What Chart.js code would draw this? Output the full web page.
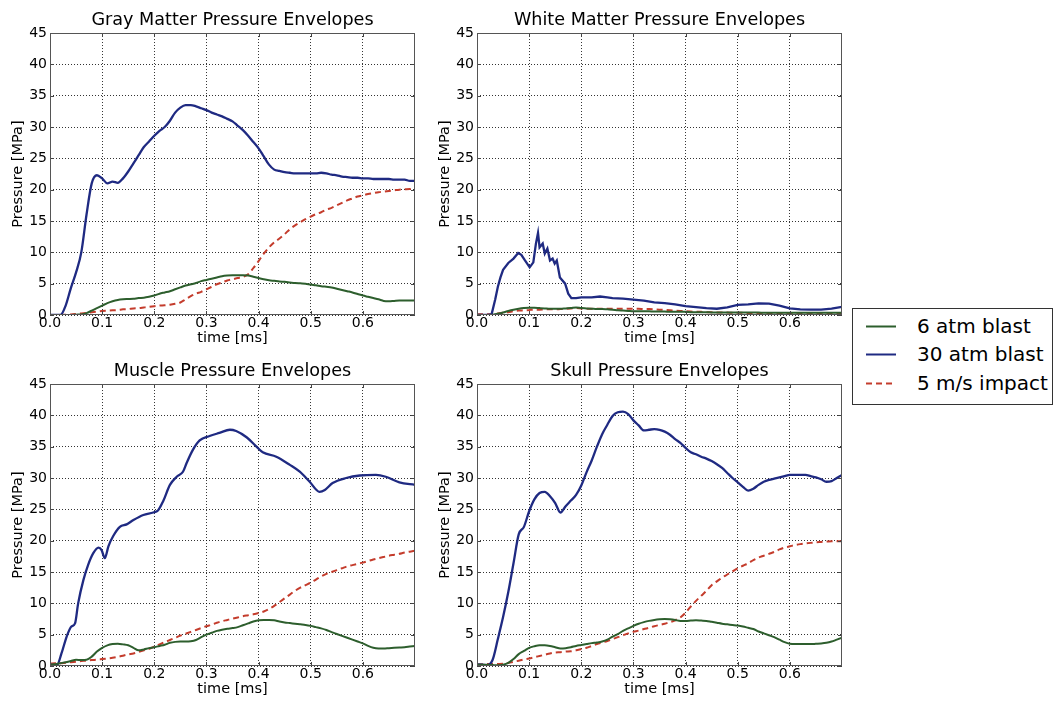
<!DOCTYPE html>
<html>
<head>
<meta charset="utf-8">
<script src="https://cdn.jsdelivr.net/npm/chart.js@4"></script>
<style>
  body { margin: 0; background: #fff; font-family: "DejaVu Sans", sans-serif; }
  #wrap { position: relative; width: 1057px; height: 703px; }
  canvas { position: absolute; }
  #legend { position: absolute; left: 852px; top: 308px; width: 199px; height: 95px;
            border: 1px solid #333; background: #fff; font-size: 20px; color: #000; }
  .row { position: absolute; left: 0; height: 24px; line-height: 24px; }
  .row svg { position: absolute; left: 13px; top: 11px; }
  .row span { position: absolute; left: 64px; white-space: nowrap; }
</style>
</head>
<body>
<div id="wrap">
  <canvas id="gray" width="430" height="350" style="left:0;top:0"></canvas>
  <canvas id="white" width="430" height="350" style="left:427px;top:0"></canvas>
  <canvas id="muscle" width="430" height="350" style="left:0;top:351px"></canvas>
  <canvas id="skull" width="430" height="350" style="left:427px;top:351px"></canvas>
  <div id="legend"></div>
</div>
<script>
// Legend labels
const seriesNames = ['6 atm blast', '30 atm blast', '5 m/s impact'];
const colors = ['#2d5e2d', '#1f2a82', '#c43c2c'];

// Shared time grid [ms]
const time = [0.00,0.01,0.02,0.03,0.04,0.05,0.06,0.07,0.08,0.09,
  0.10,0.11,0.12,0.13,0.14,0.15,0.16,0.17,0.18,0.19,
  0.20,0.21,0.22,0.23,0.24,0.25,0.26,0.27,0.28,0.29,
  0.30,0.31,0.32,0.33,0.34,0.35,0.36,0.37,0.38,0.39,
  0.40,0.41,0.42,0.43,0.44,0.45,0.46,0.47,0.48,0.49,
  0.50,0.51,0.52,0.53,0.54,0.55,0.56,0.57,0.58,0.59,
  0.60,0.61,0.62,0.63,0.64,0.65,0.66,0.67,0.68,0.69,0.70];

const xTicks = [0.0, 0.1, 0.2, 0.3, 0.4, 0.5, 0.6];
const yTicks = [0, 5, 10, 15, 20, 25, 30, 35, 40, 45];

// Gray matter
const grayBlast = [0,0,0,1.5,4.3,6.8,10,16,21,22.3,
  21.8,21.0,21.3,21.1,21.8,22.9,24.2,25.5,26.8,27.7,
  28.6,29.4,30.0,31.0,32.3,33.1,33.5,33.5,33.3,33.0,
  32.7,32.3,32.0,31.7,31.3,30.9,30.2,29.5,28.6,27.6,
  26.6,25.3,24.0,23.2,23.0,22.8,22.7,22.6,22.6,22.6,
  22.6,22.6,22.7,22.6,22.4,22.3,22.1,22.0,21.9,21.9,
  21.8,21.8,21.7,21.7,21.7,21.7,21.6,21.6,21.6,21.4,21.4];
const grayLow = [0,0,0,0,0,0.05,0.1,0.3,0.7,1.1,
  1.5,1.9,2.2,2.4,2.5,2.55,2.6,2.7,2.75,2.9,
  3.1,3.4,3.6,3.8,4.1,4.4,4.7,4.9,5.1,5.4,
  5.6,5.8,6.0,6.2,6.3,6.35,6.35,6.35,6.3,6.1,
  5.9,5.7,5.55,5.45,5.35,5.3,5.2,5.1,5.05,5.0,
  4.85,4.75,4.6,4.5,4.4,4.2,4.0,3.8,3.6,3.35,
  3.1,2.9,2.7,2.5,2.25,2.2,2.25,2.3,2.3,2.3,2.3];
const grayImpact = [0,0,0,0.05,0.1,0.15,0.25,0.35,0.45,0.55,
  0.65,0.7,0.75,0.8,0.9,0.95,1.05,1.1,1.2,1.3,
  1.4,1.5,1.55,1.65,1.8,2.0,2.5,3.0,3.4,3.7,
  4.1,4.5,4.9,5.2,5.5,5.7,5.9,6.1,6.5,7.5,
  8.6,9.8,10.8,11.6,12.2,12.9,13.7,14.3,14.8,15.3,
  15.7,16.1,16.4,16.8,17.1,17.5,17.9,18.3,18.6,18.9,
  19.1,19.3,19.45,19.6,19.7,19.8,19.9,20.0,20.05,20.1,20.1];

// White matter (blast series is spiky, so it has its own time points)
const whiteBlastTime = [0,0.02,0.028,0.035,0.04,0.045,0.05,0.06,0.07,0.079,
  0.085,0.092,0.101,0.108,0.113,0.117,0.12,0.126,0.13,0.135,
  0.14,0.145,0.149,0.153,0.159,0.169,0.175,0.181,0.19,0.2,
  0.22,0.236,0.25,0.26,0.28,0.3,0.32,0.34,0.36,0.38,
  0.4,0.42,0.44,0.46,0.48,0.5,0.52,0.54,0.56,0.58,
  0.6,0.62,0.64,0.66,0.68,0.7];
const whiteBlast = [0,0,0.1,2.5,4.5,6,7.2,8.3,9.0,9.9,
  9.6,8.7,7.6,8.4,11.4,13.1,10.8,11.4,9.8,10.6,
  8.7,9.0,8.2,8.7,6,5,3.4,2.7,2.7,2.8,
  2.8,2.95,2.8,2.7,2.6,2.45,2.3,2.0,1.9,1.7,
  1.4,1.25,1.1,1.0,1.2,1.6,1.7,1.85,1.8,1.5,
  1.05,0.9,0.85,0.85,1.0,1.3];
const whiteLow = [0,0,0,0.05,0.2,0.4,0.65,0.85,1.0,1.1,
  1.15,1.15,1.1,1.05,1.0,1.0,1.0,1.05,1.1,1.2,
  1.1,1.05,1.0,0.95,0.95,0.9,0.85,0.75,0.7,0.65,
  0.6,0.6,0.6,0.6,0.55,0.55,0.55,0.5,0.5,0.5,
  0.5,0.45,0.45,0.45,0.45,0.4,0.4,0.4,0.4,0.4,
  0.4,0.4,0.38,0.38,0.38,0.36,0.36,0.36,0.35,0.35,
  0.35,0.35,0.35,0.35,0.35,0.35,0.35,0.35,0.35,0.35,0.35];
const whiteImpact = [0.1,0.1,0.1,0.15,0.25,0.35,0.45,0.6,0.7,0.75,
  0.8,0.85,0.85,0.9,0.9,0.9,0.95,1.0,1.05,1.1,
  1.05,1.0,1.0,1.0,1.0,1.0,1.0,1.0,1.0,1.0,
  1.0,1.0,0.95,0.95,0.9,0.85,0.8,0.75,0.7,0.65,
  0.6,0.55,0.5,0.5,0.45,0.45,0.4,0.4,0.4,0.35,
  0.35,0.35,0.33,0.33,0.32,0.32,0.3,0.3,0.3,0.3,
  0.3,0.3,0.3,0.3,0.3,0.3,0.3,0.3,0.3,0.3,0.3];

// Muscle
const muscleBlastTime = [0,0.013,0.022,0.032,0.041,0.048,0.054,0.064,0.073,0.083,
  0.093,0.099,0.105,0.112,0.121,0.134,0.147,0.16,0.179,0.198,
  0.207,0.217,0.23,0.243,0.255,0.262,0.274,0.287,0.306,0.325,
  0.345,0.357,0.377,0.396,0.408,0.434,0.46,0.479,0.498,0.517,
  0.527,0.542,0.568,0.594,0.625,0.644,0.67,0.70];
const muscleBlast = [0.2,0.1,2,4.7,6.3,6.8,10,13.7,16.1,18,
  18.9,18.5,17.2,19.1,20.7,22.2,22.6,23.3,24.1,24.5,
  24.8,26.3,28.9,30.2,31,32.4,34.5,36,36.7,37.2,
  37.7,37.5,36.5,35,34.1,33.4,32.1,31,29.4,27.8,
  28.1,29.2,30,30.4,30.5,30.2,29.3,28.9];
const muscleLow = [0.15,0.3,0.45,0.6,0.8,1.0,0.95,1.0,1.5,2.3,
  2.9,3.3,3.5,3.55,3.45,3.3,2.9,2.5,2.65,2.85,
  3.0,3.2,3.4,3.7,3.85,3.9,3.9,3.95,4.15,4.6,
  5.0,5.3,5.6,5.8,5.95,6.05,6.2,6.5,6.8,7.1,
  7.3,7.35,7.35,7.3,7.1,6.95,6.85,6.75,6.65,6.55,
  6.4,6.2,6.0,5.75,5.4,5.1,4.8,4.5,4.2,3.9,
  3.6,3.2,2.9,2.8,2.8,2.85,2.9,2.95,3.0,3.1,3.2];
const muscleImpact = [0.4,0.42,0.45,0.5,0.6,0.7,0.8,0.85,0.95,1.0,
  1.1,1.2,1.3,1.45,1.65,1.85,2.0,2.25,2.5,2.75,
  3.1,3.45,3.8,4.15,4.5,4.85,5.15,5.45,5.75,6.05,
  6.35,6.6,6.9,7.15,7.35,7.55,7.75,7.95,8.1,8.25,
  8.45,8.7,9.1,9.6,10.2,10.8,11.4,12.0,12.5,12.9,
  13.3,13.8,14.3,14.7,15.0,15.3,15.6,15.9,16.1,16.3,
  16.5,16.75,17.0,17.2,17.4,17.6,17.75,17.9,18.1,18.25,18.4];

// Skull
const skullBlast = [0.25,0.2,0.15,1.0,4.3,7.8,11.8,16.4,21.0,22.2,
  24.7,26.6,27.6,27.8,27.1,26.0,24.5,25.5,26.4,27.3,
  28.8,30.9,32.8,35.0,37.0,38.5,39.9,40.5,40.6,40.2,
  39.2,38.4,37.6,37.7,37.8,37.7,37.4,36.9,36.2,35.6,
  34.8,34.1,33.8,33.4,33.1,32.7,32.2,31.6,30.8,30.0,
  29.3,28.6,28.0,28.3,28.9,29.4,29.7,29.9,30.1,30.3,
  30.5,30.5,30.5,30.5,30.3,30.1,29.8,29.4,29.5,30.0,30.5];
const skullLow = [0.2,0.2,0.2,0.15,0.1,0.2,0.5,1.1,1.9,2.4,
  2.9,3.15,3.3,3.3,3.2,3.0,2.8,2.85,3.0,3.2,
  3.35,3.5,3.65,3.75,3.9,4.2,4.7,5.1,5.6,6.0,
  6.4,6.75,7.0,7.2,7.35,7.45,7.5,7.45,7.35,7.2,
  7.2,7.25,7.3,7.25,7.2,7.05,6.9,6.75,6.65,6.55,
  6.45,6.3,6.1,5.9,5.5,5.2,4.9,4.6,4.2,3.8,
  3.55,3.5,3.5,3.5,3.5,3.55,3.6,3.7,3.9,4.2,4.5];
const skullImpact = [0.25,0.27,0.3,0.3,0.32,0.35,0.5,0.65,0.85,1.05,
  1.2,1.4,1.6,1.8,2.0,2.15,2.2,2.3,2.35,2.5,
  2.7,2.9,3.2,3.5,3.75,4.0,4.3,4.6,4.9,5.2,
  5.45,5.65,5.9,6.1,6.35,6.55,6.75,7.0,7.3,7.75,
  8.5,9.5,10.4,11.2,12.0,12.9,13.5,14.1,14.6,15.1,
  15.6,16.0,16.4,16.9,17.3,17.6,17.9,18.2,18.6,18.9,
  19.1,19.3,19.45,19.55,19.65,19.75,19.8,19.85,19.9,19.9,19.9];

Chart.defaults.font.family = '"DejaVu Sans", sans-serif';
Chart.defaults.color = '#000';

function pairs(xs, ys) {
  return ys.map((v, i) => ({ x: xs[i], y: v }));
}

// matplotlib style box around the axes, with small inward tick marks
const framePlugin = {
  id: 'frame',
  afterDatasetsDraw(chart) {
    const a = chart.chartArea;
    const ctx = chart.ctx;
    const { x, y } = chart.scales;
    const len = 4;
    ctx.save();
    ctx.strokeStyle = '#444';
    ctx.lineWidth = 1;
    ctx.beginPath();
    x.ticks.forEach(t => {
      const px = Math.round(x.getPixelForValue(t.value)) + 0.5;
      ctx.moveTo(px, a.bottom); ctx.lineTo(px, a.bottom - len);
      ctx.moveTo(px, a.top); ctx.lineTo(px, a.top + len);
    });
    y.ticks.forEach(t => {
      const py = Math.round(y.getPixelForValue(t.value)) + 0.5;
      ctx.moveTo(a.left, py); ctx.lineTo(a.left + len, py);
      ctx.moveTo(a.right, py); ctx.lineTo(a.right - len, py);
    });
    ctx.stroke();
    ctx.strokeStyle = '#555';
    ctx.strokeRect(Math.round(a.left) + 0.5, Math.round(a.top) + 0.5,
      Math.round(a.width) - 1, Math.round(a.height) - 1);
    ctx.restore();
  }
};

function makePanel(id, title, blastTime, blast, low, impact, spiky) {
  const dash = [1, 2];
  new Chart(document.getElementById(id), {
    type: 'line',
    data: {
      datasets: [
        { label: seriesNames[0], data: pairs(time, low), borderColor: colors[0],
          borderWidth: 2, cubicInterpolationMode: 'monotone' },
        { label: seriesNames[1], data: pairs(blastTime, blast), borderColor: colors[1],
          borderWidth: 2.3, cubicInterpolationMode: spiky ? 'default' : 'monotone', tension: 0 },
        { label: seriesNames[2], data: pairs(time, impact), borderColor: colors[2],
          borderWidth: 2, borderDash: [6, 4], cubicInterpolationMode: 'monotone' }
      ]
    },
    options: {
      responsive: false,
      animation: false,
      devicePixelRatio: 1,
      elements: { point: { radius: 0 } },
      layout: { padding: { left: 0, right: 15, top: 0, bottom: 0 } },
      plugins: {
        legend: { display: false },
        tooltip: { enabled: false },
        title: {
          display: true, text: title, fullSize: false, color: '#000',
          font: { size: 17.6, weight: 'normal' }, padding: { top: 9.5, bottom: 2.4 }
        }
      },
      scales: {
        x: {
          type: 'linear', min: 0, max: 0.7,
          afterBuildTicks: s => { s.ticks = xTicks.map(v => ({ value: v })); },
          afterFit: s => { s.height = 35; },
          ticks: { font: { size: 14 }, padding: 0, maxRotation: 0,
                   callback: v => v.toFixed(1) },
          grid: { color: 'rgba(0,0,0,0.8)', lineWidth: 1, drawTicks: false },
          border: { display: false, dash: dash },
          title: { display: true, text: 'time [ms]', font: { size: 14.5 },
                   padding: { top: 0, bottom: 3.3 } }
        },
        y: {
          min: 0, max: 45,
          afterBuildTicks: s => { s.ticks = yTicks.map(v => ({ value: v })); },
          afterFit: s => { s.width = 50; },
          ticks: { font: { size: 14 }, padding: 3 },
          grid: { color: 'rgba(0,0,0,0.8)', lineWidth: 1, drawTicks: false },
          border: { display: false, dash: dash },
          title: { display: true, text: 'Pressure [MPa]', font: { size: 14.5 },
                   padding: { top: 9.3, bottom: 0 } }
        }
      }
    },
    plugins: [framePlugin]
  });
}

makePanel('gray', 'Gray Matter Pressure Envelopes', time, grayBlast, grayLow, grayImpact, false);
makePanel('white', 'White Matter Pressure Envelopes', whiteBlastTime, whiteBlast, whiteLow, whiteImpact, true);
makePanel('muscle', 'Muscle Pressure Envelopes', muscleBlastTime, muscleBlast, muscleLow, muscleImpact, false);
makePanel('skull', 'Skull Pressure Envelopes', time, skullBlast, skullLow, skullImpact, false);

// Shared legend box on the right
const legendEl = document.getElementById('legend');
const rowTops = [5, 33, 62];
seriesNames.forEach((name, i) => {
  const row = document.createElement('div');
  row.className = 'row';
  row.style.top = rowTops[i] + 'px';
  const dashAttr = i === 2 ? ' stroke-dasharray="6 4"' : '';
  row.innerHTML = '<svg width="32" height="3"><line x1="0" y1="1.5" x2="30" y2="1.5" stroke="' +
    colors[i] + '" stroke-width="2"' + dashAttr + '/></svg><span>' + name + '</span>';
  legendEl.appendChild(row);
});
</script>
</body>
</html>
